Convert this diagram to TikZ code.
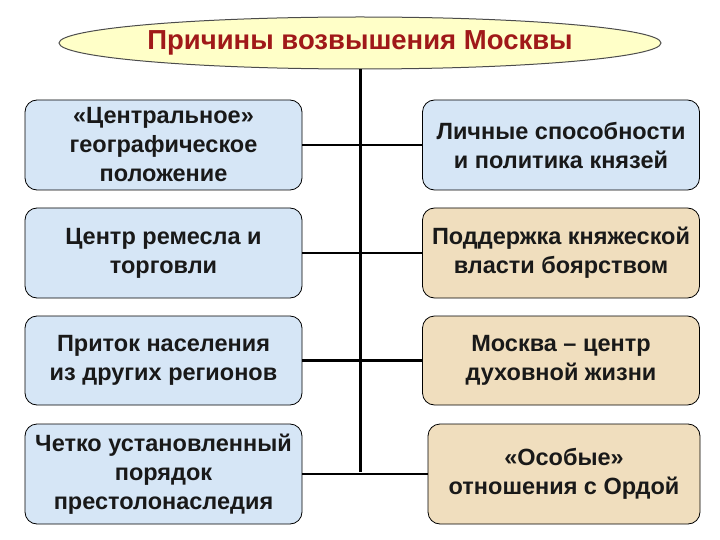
\documentclass[tikz,border=0pt]{standalone}
\usepackage{fontspec}
\setmainfont{Liberation Sans}
\usetikzlibrary{shapes.geometric}
\definecolor{bluebox}{RGB}{214,230,246}
\definecolor{beigebox}{RGB}{240,222,190}
\definecolor{ellfill}{RGB}{255,255,200}
\definecolor{titred}{RGB}{160,25,25}
\tikzset{
 box/.style={draw=black, line width=0.8pt, rounded corners=12pt, minimum width=277pt, align=center, inner sep=1pt, font=\fontsize{23.5}{29}\selectfont\bfseries, text=black!90},
 bb/.style={box, fill=bluebox},
 eb/.style={box, fill=beigebox},
 conn/.style={line width=2.5pt, black}
}
\begin{document}
\begin{tikzpicture}[x=1pt,y=-1pt]
\useasboundingbox (0,0) rectangle (720,540);
\node[ellipse, draw=black!70, line width=1pt, fill=ellfill, minimum width=602pt, minimum height=52pt, inner sep=0pt, font=\fontsize{27.5}{31}\selectfont\bfseries, text=titred] (t) at (360,43) {Причины возвышения Москвы};
\node[bb, minimum height=90pt] (l1) at (163.5,145) {«Центральное»\\географическое\\положение};
\node[bb, minimum height=90pt] (l2) at (163.5,253) {Центр ремесла и\\торговли};
\node[bb, minimum height=89pt] (l3) at (163.5,360.5) {Приток населения\\из других регионов};
\node[bb, minimum height=100pt] (l4) at (163.5,474) {Четко установленный\\порядок\\престолонаследия};
\node[bb, minimum height=90pt] (r1) at (561,145) {Личные способности\\и политика князей};
\node[eb, minimum height=90pt] (r2) at (561,253) {Поддержка княжеской\\власти боярством};
\node[eb, minimum height=89pt] (r3) at (561,360.5) {Москва – центр\\духовной жизни};
\node[eb, minimum height=100pt, minimum width=272pt] (r4) at (564,474) {«Особые»\\отношения с Ордой};
\coordinate (vb) at (360,472);
\draw[line width=3pt] (t.south) -- (vb);
\foreach \n in {l1,l2,l3,l4}{ \draw[conn] (\n.east) -- (\n.east -| vb); }
\foreach \n in {r1,r2,r3,r4}{ \draw[conn] (\n.west) -- (\n.west -| vb); }
\end{tikzpicture}
\end{document}
